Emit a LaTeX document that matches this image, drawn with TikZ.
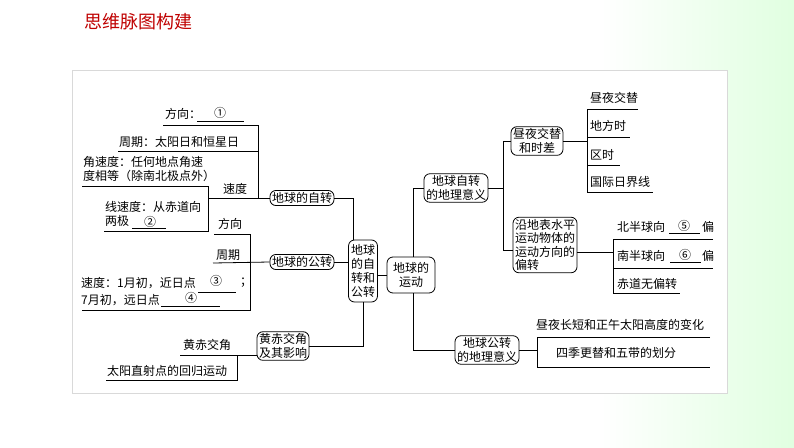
\documentclass[tikz,border=0pt]{standalone}
\usepackage{fontspec}
\setmainfont{Noto Sans CJK SC}
\usetikzlibrary{shadings}
\begin{document}
\begin{tikzpicture}[x=1pt,y=-1pt,
  every node/.style={font=\fontsize{12}{14}\selectfont, inner sep=1pt},
  box/.style={draw, rounded corners=6pt, line width=0.8pt, align=center, inner sep=2pt, fill=white, font=\fontsize{12}{13.5}\selectfont},
  ln/.style={line width=0.8pt},
  txt/.style={anchor=west}]
\useasboundingbox (0,0) rectangle (794,447);
\shade[left color=white, right color=green!12!white] (600,0) rectangle (794,447);
\fill[white] (72,70) rectangle (727,393);
\draw[black!15] (72,70) rectangle (727,393);
\node[anchor=west, text=red!75!black, font=\fontsize{18}{20}\selectfont] (title) at (83,22) {思维脉图构建};

% nodes
\node[box] (zz) at (302,198) {地球的自转};
\node[box] (gz) at (302,262) {地球的公转};
\node[box, minimum height=62pt, text width=27pt, inner sep=1pt, font=\fontsize{12}{14}\selectfont] (zg) at (363,271) {地球\\的自\\转和\\公转};
\node[box, minimum width=48pt, minimum height=36pt] (yd) at (411,275) {地球的\\运动};
\node[box] (hc) at (283,346) {黄赤交角\\及其影响};
\node[box] (zy) at (456,188) {地球自转\\的地理意义};
\node[box] (gy) at (487,350) {地球公转\\的地理意义};
\node[box] (zj) at (537,141) {昼夜交替\\和时差};
\node[box, align=left] (yp) at (545,245) {沿地表水平\\运动物体的\\运动方向的\\偏转};

% left upper
\node[txt] (t1) at (164,114) {方向：};
\node (c1) at (220,113) {①};
\draw[ln] (197,121) -- (244,121);
\coordinate (v1t) at (258,125);
\coordinate (v1b) at (258,198);
\draw[ln] (163,125) -- (v1t) -- (v1b);
\node[txt] (t2) at (118,142) {周期：太阳日和恒星日};
\draw[ln] (118,151) -- (258,151);
\node[txt, align=left] (t3) at (82,169) {角速度：任何地点角速\\度相等（除南北极点外）};
\draw[ln] (82,186) -- (208,186) -- (208,231) -- (104,231);
\node[txt, align=left] (t4) at (104,214) {线速度：从赤道向\\两极};
\node (c2) at (150,222) {②};
\draw[ln] (132,228) -- (166,228);
\node (t5) at (235,189) {速度};
\draw[ln] (208,198) -- (zz.west);
\draw[ln] (zz.east) -- (353,198) -- (zg.north -| 353,0);
% left middle
\node (t6) at (230,224) {方向};
\draw[ln] (214,234) -- (250,234) -- (250,310) -- (82,310);
\node (t7) at (228,255) {周期};
\draw[ln] (213,263) -- (gz.west);
\draw[ln] (gz.east) -- (zg.west |- gz.east);
\node[txt] (t8) at (80,283) {速度：1月初，近日点};
\node (c3) at (216,281) {③};
\draw[ln] (198,292) -- (236,292);
\node (semi) at (246,283) {；};
\node[txt] (t9) at (80,300) {7月初，远日点};
\node (c4) at (191,298) {④};
\draw[ln] (161,306) -- (220,306);
% bottom left
\draw[ln] (zg.south) -- (zg.south |- hc.east) -- (hc.east);
\node (t10) at (207,345) {黄赤交角};
\draw[ln] (180,355) -- (hc.west |- 0,355);
\draw[ln] (237,355) -- (237,380) -- (106,380);
\node[txt] (t11) at (106,371) {太阳直射点的回归运动};
% center
\draw[ln] (zg.east |- yd.west) -- (yd.west);
\draw[ln] (413,257) -- (413,188) -- (zy.west);
\draw[ln] (413,293) -- (413,350) -- (gy.west);
% right upper
\draw[ln] (zy.east) -- (503,188);
\draw[ln] (503,141) -- (503,250);
\draw[ln] (503,141) -- (zj.west);
\draw[ln] (503,250) -- (yp.west |- 0,250);
\draw[ln] (zj.east) -- (587,141);
\draw[ln] (638,109) -- (587,109) -- (587,192) -- (653,192);
\draw[ln] (587,137) -- (630,137);
\draw[ln] (587,165) -- (620,165);
\node[txt] (r1) at (589,98) {昼夜交替};
\node[txt] (r2) at (589,126) {地方时};
\node[txt] (r3) at (589,155) {区时};
\node[txt] (r4) at (589,182) {国际日界线};
\draw[ln] (yp.east |- 0,252) -- (613,252);
\draw[ln] (713,239) -- (613,239) -- (613,293) -- (680,293);
\draw[ln] (613,268) -- (713,268);
\node[txt] (r5) at (616,227) {北半球向};
\node (c5) at (684,226) {⑤};
\draw[ln] (669,233) -- (700,233);
\node (p5) at (708,227) {偏};
\node[txt] (r6) at (616,256) {南半球向};
\node (c6) at (685,255) {⑥};
\draw[ln] (670,262) -- (701,262);
\node (p6) at (708,256) {偏};
\node[txt] (r7) at (616,284) {赤道无偏转};
% right lower
\draw[ln] (gy.east) -- (537,350);
\draw[ln] (710,337) -- (537,337) -- (537,367) -- (710,367);
\node[txt] (r8) at (535,325) {昼夜长短和正午太阳高度的变化};
\node[txt] (r9) at (555,353) {四季更替和五带的划分};
\end{tikzpicture}
\end{document}
